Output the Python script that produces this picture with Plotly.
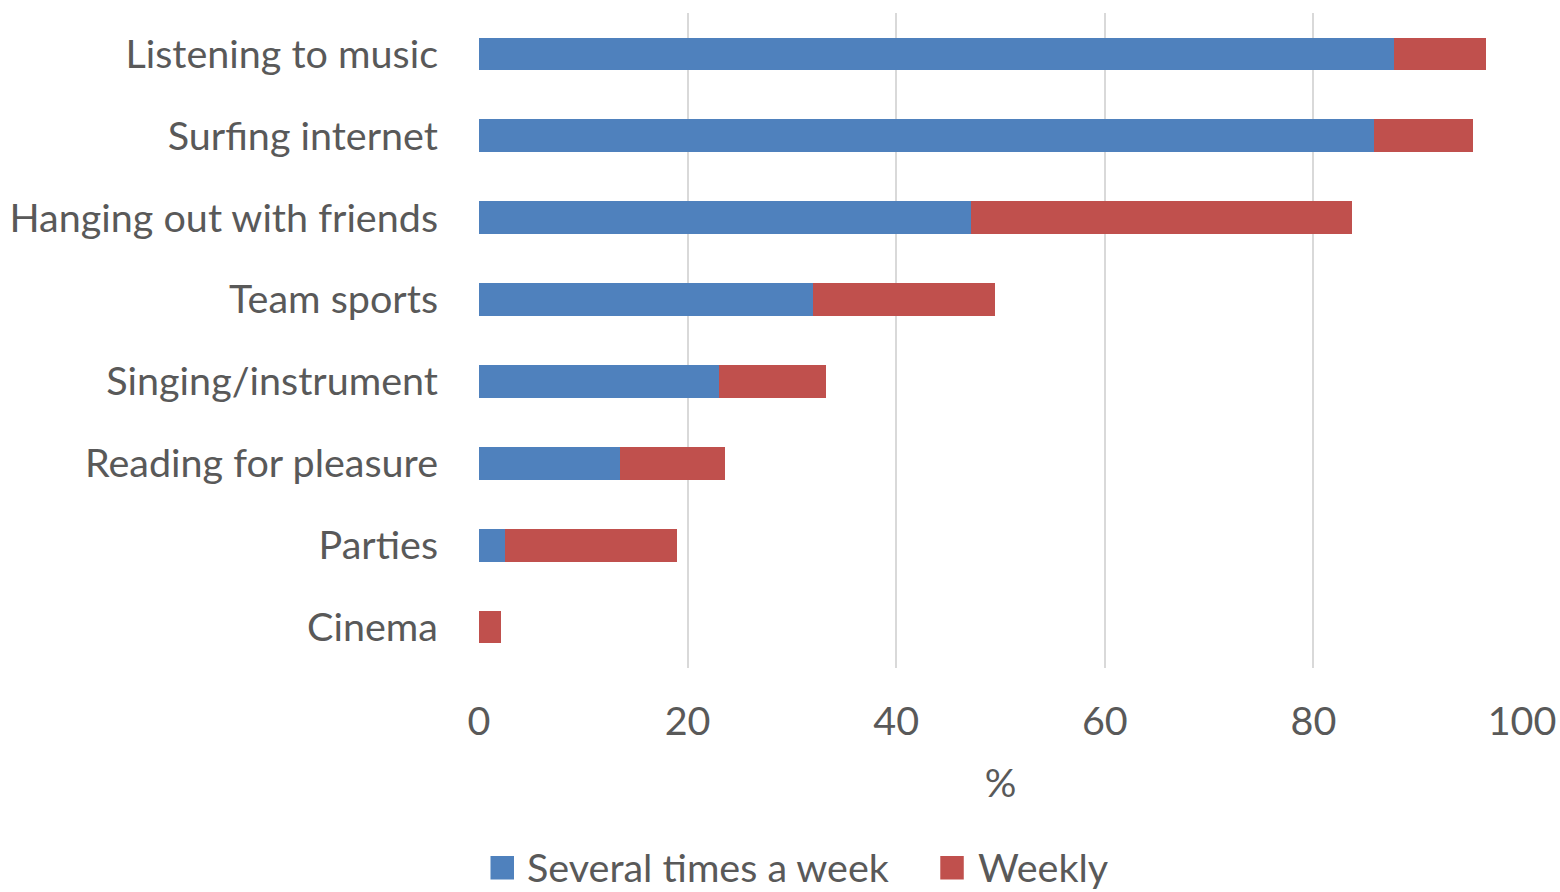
import plotly.graph_objects as go

# Leisure activities, share of respondents (%)
activities = [
    "Listening to music",
    "Surfing internet",
    "Hanging out with friends",
    "Team sports",
    "Singing/instrument",
    "Reading for pleasure",
    "Parties",
    "Cinema",
]
several_times_a_week = [87.7, 85.8, 47.2, 32.0, 23.0, 13.5, 2.5, 0.0]
weekly = [8.8, 9.5, 36.5, 17.5, 10.3, 10.1, 16.5, 2.1]

x_ticks = [0, 20, 40, 60, 80, 100]
series_names = ["Several times a week", "Weekly"]

BLUE = "#4f81bd"
RED = "#c0504d"
TEXT = "#595959"
GRID = "#d9d9d9"
FONT = "Lato, 'Open Sans', sans-serif"
FS = 39.5

W, H = 1560, 892
M_L, M_R, M_T, M_B = 478.5, 38, 13, 224
PLOT_W = W - M_L - M_R
PLOT_H = H - M_T - M_B


def px_to_paper_x(px):
    return (px - M_L) / PLOT_W


def px_to_paper_y(py):
    return (H - M_B - py) / PLOT_H


fig = go.Figure()
fig.add_trace(go.Bar(
    y=activities, x=several_times_a_week, orientation="h",
    name=series_names[0], marker=dict(color=BLUE, line=dict(width=0)),
    showlegend=False,
))
fig.add_trace(go.Bar(
    y=activities, x=weekly, orientation="h",
    name=series_names[1], marker=dict(color=RED, line=dict(width=0)),
    showlegend=False,
))

# Legend drawn below the axis: coloured square keys with labels
LEGEND_MID = 866
legend_items = [(series_names[0], BLUE, 490, 525), (series_names[1], RED, 940, 976)]
for label, color, key_left, text_left in legend_items:
    fig.add_shape(
        type="rect", xref="paper", yref="paper",
        x0=px_to_paper_x(key_left), x1=px_to_paper_x(key_left + 23.5),
        y0=px_to_paper_y(LEGEND_MID + 13.5), y1=px_to_paper_y(LEGEND_MID - 10),
        fillcolor=color, line=dict(width=0),
    )
    fig.add_annotation(
        xref="paper", yref="paper",
        x=px_to_paper_x(text_left), y=px_to_paper_y(LEGEND_MID),
        xanchor="left", yanchor="middle", showarrow=False,
        text=label, font=dict(size=FS, color=TEXT, family=FONT),
    )

fig.update_layout(
    width=W, height=H,
    margin=dict(l=M_L, r=M_R, t=M_T, b=M_B, autoexpand=False),
    barmode="stack",
    bargap=0.6,
    plot_bgcolor="white",
    paper_bgcolor="white",
    font=dict(family=FONT, size=FS, color=TEXT),
    showlegend=False,
)
fig.update_xaxes(
    range=[0, 100], tickvals=x_ticks, ticktext=[str(v) for v in x_ticks],
    showgrid=True, gridcolor=GRID, gridwidth=1.5,
    zeroline=False, showline=False, ticks="", automargin=False,
    tickfont=dict(size=FS, color=TEXT), ticklabelstandoff=26,
    title=dict(text="%", font=dict(size=FS, color=TEXT), standoff=27),
)
fig.update_yaxes(
    categoryorder="array", categoryarray=activities[::-1],
    autorange=True, showgrid=False, zeroline=False, showline=False, ticks="",
    automargin=False,
    tickfont=dict(size=FS, color=TEXT), ticklabelstandoff=40,
)

fig.write_html("out.html")
